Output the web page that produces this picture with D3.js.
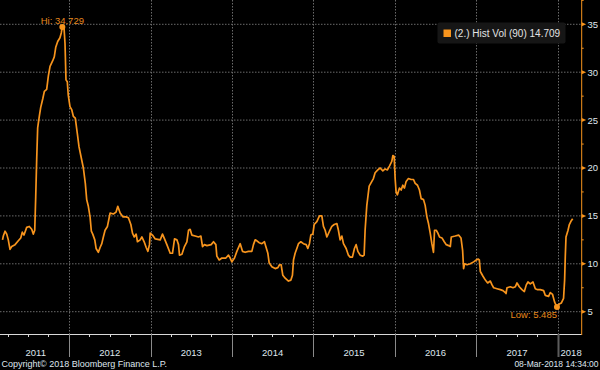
<!DOCTYPE html>
<html>
<head>
<meta charset="utf-8">
<script src="https://cdn.jsdelivr.net/npm/d3@7"></script>
<style>
  html, body { margin: 0; padding: 0; background: #000; }
  svg { display: block; font-family: "Liberation Sans", Arial, sans-serif; }
</style>
</head>
<body>
<div class="canvas"></div>
<script>
// time as decimal years
const years = [
  2011.183, 2011.193, 2011.214, 2011.235, 2011.254, 2011.275, 2011.296, 2011.337, 2011.377, 2011.407,
  2011.426, 2011.447, 2011.480, 2011.512, 2011.542, 2011.561, 2011.579, 2011.591, 2011.603, 2011.615,
  2011.635, 2011.652, 2011.677, 2011.697, 2011.726, 2011.746, 2011.767, 2011.800, 2011.819, 2011.837,
  2011.861, 2011.889, 2011.905, 2011.918, 2011.939, 2011.951, 2011.963, 2011.979, 2011.991, 2012.012,
  2012.033, 2012.053, 2012.077, 2012.102, 2012.123, 2012.147, 2012.176, 2012.200, 2012.217, 2012.237,
  2012.258, 2012.274, 2012.291, 2012.316, 2012.332, 2012.360, 2012.381, 2012.402, 2012.421, 2012.442,
  2012.471, 2012.504, 2012.544, 2012.577, 2012.598, 2012.627, 2012.660, 2012.700, 2012.728, 2012.758,
  2012.778, 2012.799, 2012.823, 2012.839, 2012.872, 2012.893, 2012.921, 2012.946, 2012.967, 2012.986,
  2012.995, 2013.023, 2013.057, 2013.118, 2013.146, 2013.171, 2013.200, 2013.241, 2013.269, 2013.294,
  2013.323, 2013.343, 2013.355, 2013.385, 2013.416, 2013.446, 2013.466, 2013.486, 2013.507, 2013.548,
  2013.588, 2013.618, 2013.638, 2013.662, 2013.692, 2013.744, 2013.773, 2013.802, 2013.814, 2013.843,
  2013.876, 2013.925, 2013.957, 2013.978, 2013.999, 2014.031, 2014.060, 2014.101, 2014.129, 2014.162,
  2014.203, 2014.244, 2014.264, 2014.285, 2014.306, 2014.334, 2014.367, 2014.399, 2014.416, 2014.441,
  2014.457, 2014.490, 2014.531, 2014.564, 2014.584, 2014.604, 2014.625, 2014.654, 2014.694, 2014.724,
  2014.743, 2014.756, 2014.776, 2014.797, 2014.817, 2014.846, 2014.878, 2014.912, 2014.932, 2014.952,
  2014.969, 2014.994, 2015.010, 2015.043, 2015.075, 2015.104, 2015.124, 2015.145, 2015.166, 2015.198,
  2015.227, 2015.256, 2015.289, 2015.308, 2015.329, 2015.350, 2015.370, 2015.403, 2015.431, 2015.452,
  2015.480, 2015.505, 2015.526, 2015.547, 2015.575, 2015.608, 2015.624, 2015.636, 2015.657, 2015.686,
  2015.719, 2015.738, 2015.759, 2015.792, 2015.821, 2015.854, 2015.882, 2015.910, 2015.935, 2015.964,
  2015.977, 2015.993, 2016.005, 2016.017, 2016.033, 2016.058, 2016.079, 2016.099, 2016.119, 2016.140,
  2016.168, 2016.201, 2016.230, 2016.251, 2016.279, 2016.303, 2016.324, 2016.353, 2016.373, 2016.394,
  2016.414, 2016.435, 2016.455, 2016.475, 2016.488, 2016.509, 2016.529, 2016.549, 2016.579, 2016.607,
  2016.632, 2016.660, 2016.681, 2016.693, 2016.742, 2016.783, 2016.812, 2016.832, 2016.844, 2016.857,
  2016.886, 2016.926, 2016.967, 2017.000, 2017.021, 2017.037, 2017.049, 2017.082, 2017.111, 2017.139,
  2017.172, 2017.193, 2017.213, 2017.254, 2017.295, 2017.328, 2017.356, 2017.365, 2017.377, 2017.418,
  2017.451, 2017.479, 2017.500, 2017.528, 2017.561, 2017.590, 2017.614, 2017.635, 2017.663, 2017.696,
  2017.725, 2017.753, 2017.786, 2017.827, 2017.848, 2017.888, 2017.909, 2017.937, 2017.962, 2017.991,
  2018.020, 2018.044, 2018.072, 2018.085, 2018.093, 2018.102, 2018.127, 2018.143, 2018.167, 2018.184
];

// 90 day historical volatility
const vols = [
  12.5, 12.9, 13.4, 13.1, 12.5, 11.5, 11.8, 12.0, 12.4, 12.7,
  13.3, 13.0, 13.8, 13.9, 13.6, 13.1, 13.5, 17.0, 20.9, 24.2,
  25.4, 26.3, 27.2, 28.0, 28.2, 29.6, 30.6, 31.2, 31.6, 32.6,
  33.2, 33.6, 34.1, 34.729, 34.6, 33.0, 29.2, 29.0, 27.6, 26.4,
  26.1, 25.4, 25.2, 23.6, 22.2, 21.2, 20.0, 18.4, 16.7, 16.0,
  14.9, 13.4, 13.1, 12.5, 11.6, 11.2, 11.7, 12.1, 12.8, 13.5,
  13.9, 15.3, 15.2, 15.4, 16.0, 15.3, 14.9, 14.9, 14.8, 14.1,
  13.2, 12.8, 13.1, 12.3, 12.5, 12.8, 12.3, 11.7, 11.3, 12.0,
  13.2, 13.0, 12.6, 12.5, 13.1, 12.6, 12.0, 11.1, 11.1, 12.6,
  12.5, 12.0, 10.9, 11.0, 11.8, 12.3, 13.5, 13.6, 13.0, 12.9,
  12.8, 12.9, 11.8, 12.0, 11.9, 12.0, 12.3, 12.0, 10.8, 10.4,
  10.6, 10.6, 10.9, 10.6, 10.2, 10.6, 11.3, 12.1, 11.3, 11.2,
  11.3, 11.3, 12.0, 12.5, 12.4, 12.2, 12.1, 12.3, 11.8, 11.1,
  10.1, 9.7, 9.5, 9.6, 9.9, 9.9, 8.8, 8.5, 8.2, 8.3,
  8.8, 10.4, 11.1, 11.6, 12.1, 12.3, 12.1, 12.0, 11.6, 12.1,
  13.0, 13.1, 14.1, 14.4, 15.0, 15.0, 13.9, 13.5, 12.8, 13.4,
  13.9, 14.1, 14.2, 13.5, 12.5, 12.9, 12.1, 11.6, 10.9, 10.7,
  10.7, 11.6, 12.0, 11.3, 10.9, 10.8, 10.9, 13.5, 16.1, 18.1,
  18.6, 18.9, 19.5, 19.8, 20.0, 19.7, 19.9, 19.8, 20.2, 20.7,
  21.3, 21.2, 18.9, 17.5, 17.2, 17.9, 17.7, 18.2, 17.9, 18.6,
  18.9, 18.8, 18.8, 18.4, 18.2, 17.7, 16.8, 16.7, 16.1, 14.9,
  14.2, 13.2, 12.1, 11.2, 13.5, 13.5, 13.2, 12.8, 12.7, 12.3,
  12.0, 11.9, 11.8, 12.8, 12.9, 13.0, 12.7, 11.4, 9.5, 10.0,
  9.9, 10.0, 10.2, 10.4, 10.5, 10.4, 9.2, 8.7, 8.3, 8.0,
  8.2, 7.8, 7.5, 7.4, 7.3, 7.2, 7.0, 6.9, 7.5, 7.6,
  7.5, 7.6, 8.0, 7.6, 7.3, 7.1, 7.8, 8.1, 7.9, 8.1,
  7.4, 7.3, 7.3, 7.2, 6.7, 6.6, 7.0, 6.8, 6.0, 5.485,
  5.8, 5.9, 6.4, 8.3, 10.7, 12.8, 13.5, 14.1, 14.5, 14.709
];

const yTicks = [5, 10, 15, 20, 25, 30, 35];
const yearLabels = ['2011', '2012', '2013', '2014', '2015', '2016', '2017', '2018'];
const legendLabel = '(2.) Hist Vol (90)';
const copyright = 'Copyright\u00a9 2018 Bloomberg Finance L.P.';
const stamp = '08-Mar-2018 14:34:00';

const ORANGE = '#f7941d';
const LABEL = '#dfe6ee';

const toDate = y => {
  const yr = Math.floor(y);
  const a = Date.UTC(yr, 0, 1), b = Date.UTC(yr + 1, 0, 1);
  return new Date(a + (y - yr) * (b - a));
};

const data = years.map((y, i) => ({ date: toDate(y), value: vols[i] }));

const width = 600, height = 370;
const axisX = 581.7, axisY = 334;

const x = d3.scaleUtc()
  .domain([new Date(Date.UTC(2012, 0, 1)), new Date(Date.UTC(2018, 0, 1))])
  .range([69, 557.7]);

const y = d3.scaleLinear()
  .domain([5, 35])
  .range([311.7, 24.3]);

const svg = d3.select('.canvas')
  .append('svg')
  .attr('width', width)
  .attr('height', height)
  .style('background', '#000')

// dotted grid
const grid = svg.append('g');
grid.selectAll('.hgrid')
  .data(yTicks)
  .join('line')
  .attr('x1', 0)
  .attr('x2', axisX)
  .attr('y1', d => y(d))
  .attr('y2', d => y(d))
  .attr('stroke', '#6a6a6a')
  .attr('stroke-dasharray', '1.5,1.5')

const yearStarts = yearLabels.slice(1).map(d => new Date(Date.UTC(+d, 0, 1)));
grid.selectAll('.vgrid')
  .data(yearStarts)
  .join('line')
  .attr('x1', d => Math.round(x(d)) + 0.5)
  .attr('x2', d => Math.round(x(d)) + 0.5)
  .attr('y1', 0)
  .attr('y2', axisY)
  .attr('stroke', '#6a6a6a')
  .attr('stroke-dasharray', '1.5,1.5')

// x axis
const xAxis = svg.append('g');
xAxis.append('line')
  .attr('x1', 0)
  .attr('x2', axisX)
  .attr('y1', axisY + 0.5)
  .attr('y2', axisY + 0.5)
  .attr('stroke', '#d8d8d8')

const quarters = d3.utcMonth.every(3)
  .range(data[0].date, data[data.length - 1].date)
  .filter(d => d.getUTCMonth() !== 0);
xAxis.selectAll('.qtick')
  .data(quarters)
  .join('line')
  .attr('x1', d => Math.round(x(d)) + 0.5)
  .attr('x2', d => Math.round(x(d)) + 0.5)
  .attr('y1', axisY)
  .attr('y2', axisY + 3)
  .attr('stroke', '#d8d8d8')

xAxis.selectAll('.sep')
  .data(yearStarts)
  .join('line')
  .attr('x1', d => Math.round(x(d)) + 0.5)
  .attr('x2', d => Math.round(x(d)) + 0.5)
  .attr('y1', axisY)
  .attr('y2', 357)
  .attr('stroke', (d, i) => i === yearStarts.length - 1 ? '#5c5c5c' : '#8a8a8a')
  .attr('stroke-width', (d, i) => i === yearStarts.length - 1 ? 2 : 1)

const xStart = x(data[0].date);
xAxis.selectAll('.ylabel')
  .data(yearLabels)
  .join('text')
  .attr('x', (d, i) => {
    if (i === yearLabels.length - 1) return axisX;
    const a = Math.max(x(new Date(Date.UTC(+d, 0, 1))), xStart);
    const b = x(new Date(Date.UTC(+d + 1, 0, 1)));
    return (a + b) / 2;
  })
  .attr('y', 356)
  .attr('text-anchor', (d, i) => i === yearLabels.length - 1 ? 'end' : 'middle')
  .attr('fill', LABEL)
  .attr('font-size', 9.5)
  .text(d => d)

// right value axis
const yAxis = svg.append('g');
yAxis.append('line')
  .attr('x1', axisX)
  .attr('x2', axisX)
  .attr('y1', 0)
  .attr('y2', axisY + 1)
  .attr('stroke', ORANGE)

yAxis.selectAll('.minor')
  .data(yTicks.map(d => d + 2.5))
  .join('line')
  .attr('x1', axisX)
  .attr('x2', axisX + 2)
  .attr('y1', d => y(d))
  .attr('y2', d => y(d))
  .attr('stroke', ORANGE)

yAxis.selectAll('.major')
  .data(yTicks)
  .join('path')
  .attr('d', d => `M${axisX},${y(d) - 2}L${axisX + 4.5},${y(d)}L${axisX},${y(d) + 2}Z`)
  .attr('fill', ORANGE)

yAxis.selectAll('.vlabel')
  .data(yTicks)
  .join('text')
  .attr('x', 587.5)
  .attr('y', d => y(d) + 3.4)
  .attr('fill', LABEL)
  .attr('font-size', 9.5)
  .text(d => d)

// series
const line = d3.line()
  .x(d => x(d.date))
  .y(d => y(d.value));

svg.append('path')
  .datum(data)
  .attr('d', line)
  .attr('fill', 'none')
  .attr('stroke', ORANGE)
  .attr('stroke-width', 1.7)
  .attr('stroke-linejoin', 'round')

// hi / low markers
const hi = data[d3.maxIndex(data, d => d.value)];
const lo = data[d3.minIndex(data, d => d.value)];

const marks = svg.append('g');
marks.selectAll('circle')
  .data([hi, lo])
  .join('circle')
  .attr('cx', d => x(d.date))
  .attr('cy', d => y(d.value))
  .attr('r', 3)
  .attr('fill', ORANGE)

marks.append('text')
  .attr('x', x(hi.date))
  .attr('y', 24)
  .attr('text-anchor', 'middle')
  .attr('fill', '#e8891e')
  .attr('font-size', 9.5)
  .text('Hi: ' + hi.value.toFixed(3))

marks.append('text')
  .attr('x', x(lo.date))
  .attr('y', 317.5)
  .attr('text-anchor', 'end')
  .attr('fill', '#e8891e')
  .attr('font-size', 9.5)
  .text('Low: ' + lo.value.toFixed(3))

// legend
const legend = svg.append('g');
legend.append('rect')
  .attr('x', 437.5)
  .attr('y', 22.5)
  .attr('width', 128)
  .attr('height', 21)
  .attr('rx', 2)
  .attr('fill', '#161616')

legend.append('rect')
  .attr('x', 443.5)
  .attr('y', 29.5)
  .attr('width', 7.5)
  .attr('height', 7.5)
  .attr('fill', ORANGE)

legend.append('text')
  .attr('x', 454.5)
  .attr('y', 37.3)
  .attr('fill', '#e4e4e4')
  .attr('font-size', 10)
  .text(legendLabel + ' ' + vols[vols.length - 1].toFixed(3))

// footer
svg.append('text')
  .attr('x', 1.5)
  .attr('y', 366.5)
  .attr('fill', LABEL)
  .attr('font-size', 9)
  .text(copyright)

svg.append('text')
  .attr('x', 598.5)
  .attr('y', 366.5)
  .attr('text-anchor', 'end')
  .attr('fill', LABEL)
  .attr('font-size', 8.5)
  .text(stamp)
</script>
</body>
</html>
